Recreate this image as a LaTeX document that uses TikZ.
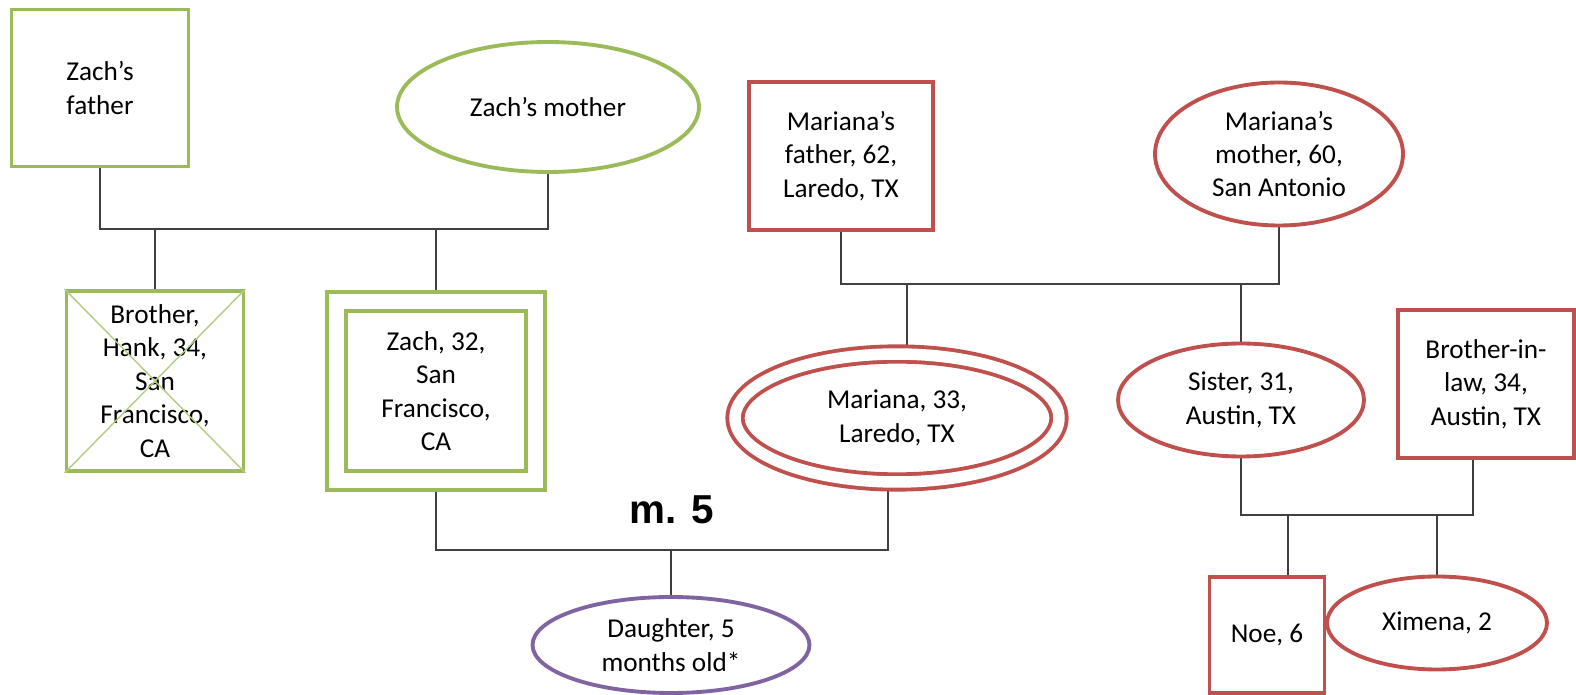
\documentclass[tikz,border=0pt]{standalone}
\usepackage{fontspec}
\setmainfont{Carlito}
\newfontfamily\markfont{Liberation Sans}
\usepackage{tikz}
\usetikzlibrary{shapes.geometric,backgrounds}

\definecolor{zgreen}{HTML}{9BBB59}
\definecolor{mred}{HTML}{C0504D}
\definecolor{kidpurple}{HTML}{8064A2}

\begin{document}
\begin{tikzpicture}[x=0.02cm,y=-0.02cm,font=\fontsize{15.5}{19}\selectfont,
   sq/.style={draw,line width=2.2pt,fill=white,align=center,inner sep=2pt},
   ov/.style={sq,ellipse,inner sep=0pt},
   kin/.style={line width=1.1pt,draw=black!75}]
  \useasboundingbox (0,0) rectangle (1576,695);
  % Zach's family
  \node[sq,draw=zgreen,minimum width=3.54cm,minimum height=3.14cm] (zf) at (100,88) {Zach’s\\father};
  \node[ov,draw=zgreen,minimum width=6.04cm,minimum height=2.6cm] (zm) at (548,107) {Zach’s mother};
  \node[sq,draw=zgreen,minimum width=3.54cm,minimum height=3.6cm] (hank) at (155,381)
       {Brother,\\Hank, 34,\\San\\Francisco,\\CA};
  \draw[zgreen!75,line width=0.8pt] (hank.north west) -- (hank.south east)
                                    (hank.north east) -- (hank.south west);
  \node[sq,draw=zgreen,double=white,double distance=0.31cm,
        minimum width=3.98cm,minimum height=3.58cm] (zach) at (436,391)
       {Zach, 32,\\San\\Francisco,\\CA};
  % Mariana's family
  \node[sq,draw=mred,minimum width=3.68cm,minimum height=2.96cm] (mf) at (841,156)
       {Mariana’s\\father, 62,\\Laredo, TX};
  \node[ov,draw=mred,minimum width=4.96cm,minimum height=2.86cm] (mm) at (1279,154)
       {Mariana’s\\mother, 60,\\San Antonio};
  \node[ov,draw=mred,double=white,double distance=0.23cm,
        minimum width=6.48cm,minimum height=2.56cm] (mar) at (897,418) {Mariana, 33,\\Laredo, TX};
  \node[ov,draw=mred,minimum width=4.92cm,minimum height=2.26cm] (sis) at (1241,400)
       {Sister, 31,\\Austin, TX};
  \node[sq,draw=mred,minimum width=3.52cm,minimum height=2.96cm] (bil) at (1486,384)
       {Brother-in-\\law, 34,\\Austin, TX};
  \node[sq,draw=mred,minimum width=2.3cm,minimum height=2.32cm] (noe) at (1267,635) {Noe, 6};
  \node[ov,draw=mred,minimum width=4.4cm,minimum height=1.86cm] (xim) at (1437,623) {Ximena, 2};
  % the couple's child
  \node[ov,draw=kidpurple,minimum width=5.54cm,minimum height=1.92cm] (dau) at (671,645)
       {Daughter, 5\\months old*};
  \node[font=\markfont\bfseries\fontsize{23}{26}\selectfont] (wedlbl) at (672,510) {m. 5};

  % sibship and marriage bars
  \coordinate (zbar) at (0,229);
  \coordinate (mbar) at (0,284);
  \coordinate (wed) at (0,550);
  \coordinate (sbar) at (0,515);
  \begin{scope}[on background layer]
    \draw[kin] (zf.south) -- (zf.south |- zbar) -| (zm.south);
    \draw[kin] (hank.north) -- (hank.north |- zbar);
    \draw[kin] (zach.north) -- (zach.north |- zbar);
    \draw[kin] (mf.south) -- (mf.south |- mbar) -| (mm.south);
    \draw[kin] (mar.81) -- (mar.81 |- mbar);
    \draw[kin] (sis.north) -- (sis.north |- mbar);
    \draw[kin] (zach.south) -- (zach.south |- wed) -| (mar.262);
    \draw[kin] (dau.north) -- (dau.north |- wed);
    \draw[kin] (sis.south) -- (sis.south |- sbar) -| (bil.260);
    \draw[kin] (noe.71) -- (noe.71 |- sbar);
    \draw[kin] (xim.north) -- (xim.north |- sbar);
  \end{scope}
\end{tikzpicture}
\end{document}
